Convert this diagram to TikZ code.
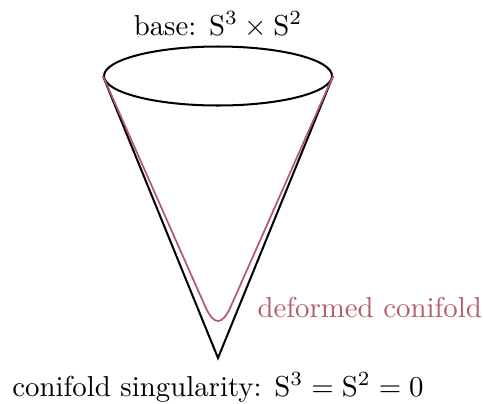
\documentclass[tikz,border=0pt]{standalone}
\usetikzlibrary{shapes.geometric}
\definecolor{defred}{RGB}{178,92,103}
\begin{document}
\begin{tikzpicture}[x=0.347pt,y=-0.347pt,
  edge/.style={draw=black,line width=0.7pt},
  defo/.style={draw=defred,line width=0.6pt},
  lbl/.style={inner sep=0pt}]
\useasboundingbox (0,0) rectangle (483,403);
\node[ellipse,draw,line width=0.7pt,minimum width=228*0.347pt,minimum height=59*0.347pt,inner sep=0pt] (base) at (218,76) {};
\coordinate (apex) at (218,358);
\draw[edge] (base.west) -- (apex) -- (base.east);
\draw[defo] (base.west) -- (205,306) .. controls (213.8,326) and (222.2,326) .. (231,306) -- (base.east);
\node[lbl,anchor=base] (top) at (218,35) {base: $\mathrm{S}^3\times\mathrm{S}^2$};
\node[lbl,anchor=base west,text=defred] (dlab) at (257,317) {deformed conifold};
\node[lbl,anchor=base] (bot) at (218,396) {conifold singularity: $\mathrm{S}^3=\mathrm{S}^2=0$};
\end{tikzpicture}
\end{document}
